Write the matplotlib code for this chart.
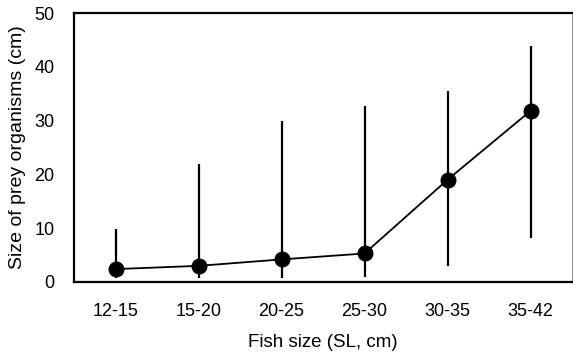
import matplotlib
matplotlib.use("Agg")
import matplotlib.pyplot as plt

plt.rcParams['font.family'] = ['Liberation Sans', 'DejaVu Sans']

categories = ["12-15", "15-20", "20-25", "25-30", "30-35", "35-42"]
means = [2.4, 3.0, 4.2, 5.3, 19.0, 31.8]
upper = [9.8, 22.0, 30.0, 32.8, 35.5, 43.8]
lower = [0.7, 0.7, 0.7, 1.0, 3.0, 8.2]

fig = plt.figure(figsize=(5.73, 3.54), dpi=100)
ax = fig.add_axes([74/573, 1-282/354, (572-74)/573, (282-13)/354])

x = [i + 0.5 for i in range(len(categories))]
ax.vlines(x, lower, upper, color='black', linewidth=1.6)
ax.plot(x, means, color='black', linewidth=1.3, marker='o', markersize=10.5)

ax.set_xlim(0, 6)
ax.set_ylim(0, 50)
ax.set_xticks(x)
ax.set_xticklabels(categories)
ax.set_yticks([0, 10, 20, 30, 40, 50])
ax.tick_params(axis='both', length=0, labelsize=13)
ax.tick_params(axis='x', pad=15)
ax.tick_params(axis='y', pad=14)
for s in ['left', 'bottom', 'top']:
    ax.spines[s].set_linewidth(1.6)
ax.spines['right'].set_linewidth(0.6)
ax.spines['right'].set_color('#888888')

ax.set_xlabel("Fish size (SL, cm)", fontsize=13.5, labelpad=10)
ax.set_ylabel("Size of prey organisms (cm)", fontsize=14, labelpad=6)

fig.savefig("out.png", dpi=100)
